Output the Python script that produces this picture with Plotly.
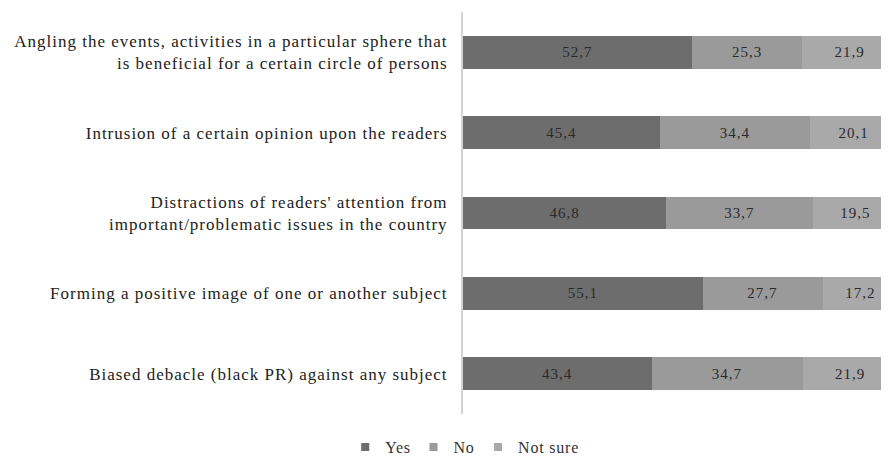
import plotly.graph_objects as go

categories = [
    "Angling the events, activities in a particular sphere that<br>is beneficial for a certain circle of persons",
    "Intrusion of a certain opinion upon the readers",
    "Distractions of readers' attention from<br>important/problematic issues in the country",
    "Forming a positive image of one or another subject",
    "Biased debacle (black PR) against any subject",
]
yes_vals = [52.7, 45.4, 46.8, 55.1, 43.4]
no_vals = [25.3, 34.4, 33.7, 27.7, 34.7]
notsure_vals = [21.9, 20.1, 19.5, 17.2, 21.9]
series_names = ["Yes", "No", "Not sure"]
colors = ["#6d6d6d", "#9a9a9a", "#a9a9a9"]

SERIF = '"Times New Roman", "Liberation Serif", serif'

def fmt(v):
    return f"{v:.1f}".replace(".", ",")

fig = go.Figure()
for name, vals, col in zip(series_names, [yes_vals, no_vals, notsure_vals], colors):
    fig.add_trace(go.Bar(
        y=categories, x=vals, name=name, orientation="h",
        marker=dict(color=col, line=dict(width=0)),
        text=[fmt(v) for v in vals], textposition="inside",
        insidetextanchor="middle",
        textfont=dict(family=SERIF, size=15, color="#2a2a2a"),
        width=0.41, showlegend=False, legendgroup=name,
    ))
# legend-only square markers (smaller swatches as in the reference)
for name, col in zip(series_names, colors):
    fig.add_trace(go.Scatter(
        x=[None], y=[None], mode="markers", name=name, legendgroup=name,
        marker=dict(symbol="square", size=8, color=col),
        showlegend=True,
    ))

fig.update_layout(
    barmode="stack",
    width=881, height=456,
    margin=dict(l=455, r=0, t=4, b=50),
    paper_bgcolor="white", plot_bgcolor="white",
    font=dict(family=SERIF, size=16, color="#222222"),
    legend=dict(orientation="h", xref="container", yref="container",
                x=0.515, y=0.037, xanchor="center", yanchor="middle",
                font=dict(family=SERIF, size=16, color="#333333"),
                itemwidth=30, traceorder="normal"),
    uniformtext=dict(minsize=10, mode="show"),
)
fig.update_xaxes(range=[0, 98], showgrid=False, showticklabels=False,
                 zeroline=False, showline=False, ticks="")
fig.update_yaxes(categoryorder="array", categoryarray=categories[::-1],
                 showgrid=False, zeroline=False, showline=True,
                 linecolor="#d4d4d4", linewidth=2, ticks="",
                 ticklabelstandoff=10, automargin=False,
                 tickfont=dict(family=SERIF, size=17, color="#222222"))

spacing_js = """
document.querySelectorAll('.ytick text').forEach(function(e){e.style.letterSpacing='1.0px';});
document.querySelectorAll('.bartext').forEach(function(e){e.style.letterSpacing='1px';});
document.querySelectorAll('.legendtext').forEach(function(e){e.style.letterSpacing='0.8px';});
"""

fig.write_html("out.html", post_script=spacing_js)
